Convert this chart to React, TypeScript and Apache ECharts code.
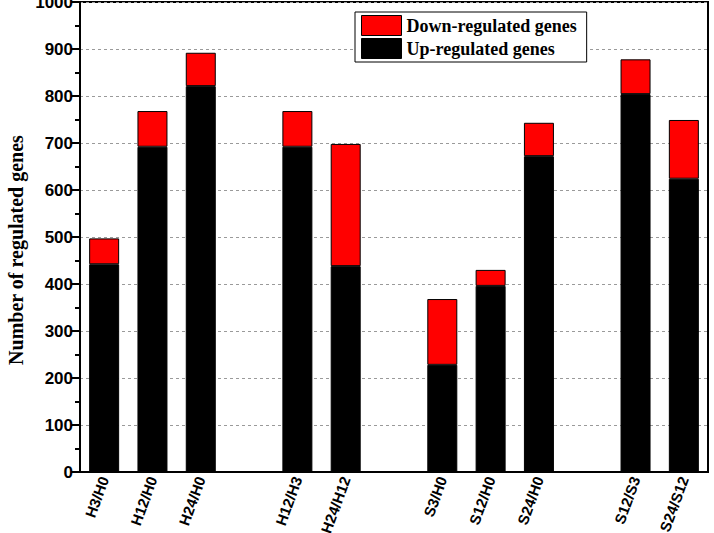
import React, { useEffect, useRef } from "react";
import * as echarts from "echarts";

// Comparisons along the x axis; empty strings are spacer slots between groups
const categories = [
  "H3/H0", "H12/H0", "H24/H0", "",
  "H12/H3", "H24/H12", "",
  "S3/H0", "S12/H0", "S24/H0", "",
  "S12/S3", "S24/S12",
];

// Number of up-regulated genes per comparison ("-" = spacer)
const upRegulated: (number | string)[] = [442, 692, 821, "-", 692, 438, "-", 228, 396, 672, "-", 804, 624];
// Number of down-regulated genes per comparison, stacked on top
const downRegulated: (number | string)[] = [55, 76, 71, "-", 76, 260, "-", 140, 34, 71, "-", 74, 125];

const yTicks = { min: 0, max: 1000, interval: 100 };
const yTitle = "Number of regulated genes";

export default function App() {
  const ref = useRef<HTMLDivElement>(null);

  useEffect(() => {
    if (!ref.current) return;
    const chart = echarts.init(ref.current, null, { renderer: "svg" });
    const serif = "'Liberation Serif', 'Times New Roman', serif";
    const sans = "'Liberation Sans', Arial, sans-serif";

    chart.setOption({
      animation: false,
      backgroundColor: "#ffffff",
      grid: {
        left: 80,
        top: 2,
        right: 6,
        bottom: 61,
        containLabel: false,
        outerBoundsMode: "none",
        show: true,
        borderColor: "#000",
        borderWidth: 2,
        backgroundColor: "transparent",
      },
      // vertical axis title, set slightly below the plot's centre
      graphic: [
        {
          type: "text",
          x: 16,
          y: 250,
          rotation: Math.PI / 2,
          style: {
            text: yTitle,
            fontFamily: serif,
            fontWeight: "bold",
            fontSize: 20,
            fill: "#000",
            align: "center",
            verticalAlign: "middle",
          },
        },
      ],
      legend: {
        left: 355,
        top: 12,
        orient: "vertical",
        data: ["Down-regulated genes", "Up-regulated genes"],
        icon: "rect",
        itemWidth: 40,
        itemHeight: 20,
        itemGap: 2,
        padding: [3, 10, 3, 6],
        borderColor: "#000",
        borderWidth: 1,
        backgroundColor: "#fff",
        itemStyle: { borderColor: "#000", borderWidth: 1 },
        textStyle: {
          fontFamily: serif,
          fontWeight: "bold",
          fontSize: 18,
          color: "#000",
        },
      },
      xAxis: {
        type: "category",
        data: categories,
        axisLine: { lineStyle: { color: "#000", width: 2 } },
        axisTick: { show: false },
        axisLabel: {
          interval: 0,
          rotate: 70,
          margin: 5,
          fontFamily: sans,
          fontWeight: "bold",
          fontSize: 15,
          color: "#000",
        },
        splitLine: { show: false },
      },
      yAxis: {
        type: "value",
        min: yTicks.min,
        max: yTicks.max,
        interval: yTicks.interval,
        axisLine: { show: true, lineStyle: { color: "#000", width: 2 } },
        axisTick: { show: true, inside: false, length: 9, lineStyle: { color: "#000", width: 2 } },
        minorTick: { show: true, splitNumber: 2, length: 5, lineStyle: { color: "#000", width: 2 } },
        axisLabel: {
          margin: 7,
          formatter: (v: number) => String(v),
          fontFamily: sans,
          fontWeight: "bold",
          fontSize: 17,
          color: "#000",
        },
        splitLine: {
          show: true,
          lineStyle: { color: "#9a9a9a", width: 1, type: [3, 3] },
        },
      },
      series: [
        {
          name: "Up-regulated genes",
          type: "bar",
          stack: "genes",
          data: upRegulated,
          barWidth: 30,
          itemStyle: { color: "#000", borderColor: "#000", borderWidth: 1 },
        },
        {
          name: "Down-regulated genes",
          type: "bar",
          stack: "genes",
          data: downRegulated,
          barWidth: 30,
          itemStyle: { color: "#ff0000", borderColor: "#000", borderWidth: 1 },
        },
      ],
    });

    return () => chart.dispose();
  }, []);

  return (
    <div
      ref={ref}
      style={{ position: "fixed", left: 0, top: 0, width: 714, height: 533, background: "#fff" }}
    />
  );
}
